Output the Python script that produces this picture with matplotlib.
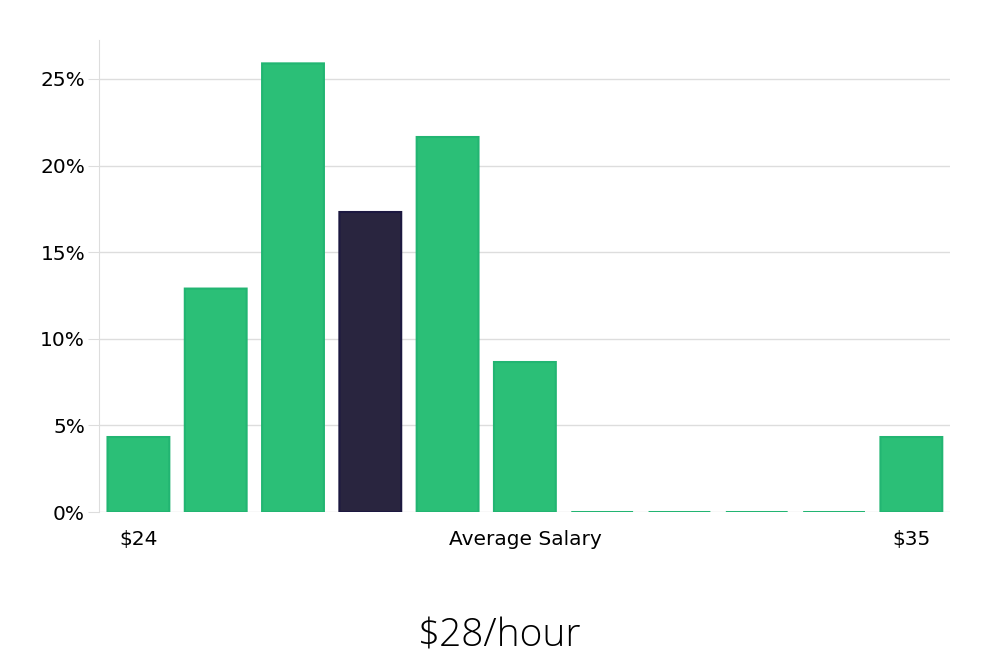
import numpy as np
import matplotlib.pyplot as plt
from matplotlib.ticker import FuncFormatter

shares = [4.33, 12.9, 25.9, 17.32, 21.65, 8.66, 0, 0, 0, 0, 4.33]
highlight = 3
xlabels = ["$24", "Average Salary", "$35"]
title = "$28/hour"

green = "#2bbf77"
green_edge = "#22b572"
dark = "#29253f"
dark_edge = "#1c1840"

fig = plt.figure(figsize=(10, 6.6), dpi=100)
ax = fig.add_axes([0.099, 0.2242, 0.851, 0.7152])

x = np.arange(len(shares))
colors = [dark if i == highlight else green for i in x]
edges = [dark_edge if i == highlight else green_edge for i in x]
ax.bar(x, shares, width=0.8, color=colors, edgecolor=edges, linewidth=1.5,
       zorder=3, snap=False)

ax.set_xlim(-0.51, 10.5)
ax.set_ylim(0, 27.25)
ax.set_yticks(np.arange(0, 26, 5))
ax.yaxis.set_major_formatter(FuncFormatter(lambda v, p: f"{v:.0f}%"))
ax.grid(axis="y", color="#dddddd", linewidth=1, zorder=0)

ax.set_xticks([0, 5, 10])
ax.set_xticklabels(xlabels)
ax.tick_params(axis="x", length=0, pad=13, labelsize=14.5)
ax.tick_params(axis="y", length=8, color="#dddddd", labelsize=14.5, pad=2)

for s in ["top", "right", "bottom"]:
    ax.spines[s].set_visible(False)
ax.spines["left"].set_color("#dddddd")

fig.text(0.5, 0.02, title, ha="center", va="baseline", fontsize=28,
         family="Open Sans", weight="light", color="#000000")

fig.savefig("out.png")
